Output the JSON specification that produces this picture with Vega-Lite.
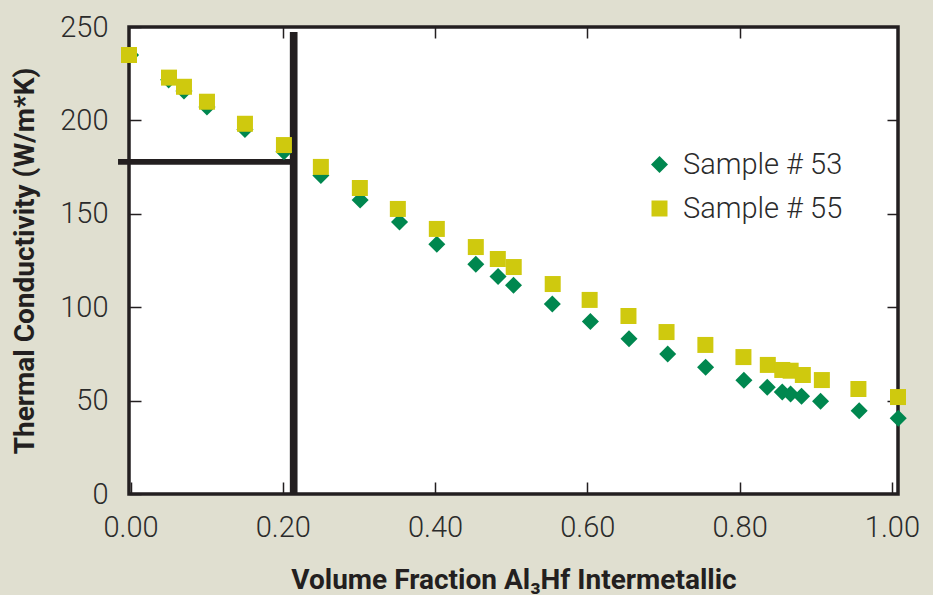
{
  "$schema": "https://vega.github.io/schema/vega-lite/v6.json",
  "width": 769,
  "height": 467,
  "autosize": {"type": "none"},
  "padding": {"left": 129, "top": 27, "right": 35, "bottom": 101},
  "background": "#e0dfd0",
  "config": {
    "view": {"stroke": "#231f20", "strokeWidth": 3.5, "fill": "#ffffff"},
    "font": "Roboto, sans-serif",
    "axis": {
      "labelFont": "Roboto, sans-serif",
      "labelFontSize": 29,
      "labelFontWeight": 300,
      "labelColor": "#2b2b2b",
      "tickColor": "#231f20",
      "tickWidth": 1.5,
      "tickSize": -12,
      "domain": false,
      "grid": false,
      "titleFont": "Roboto, sans-serif",
      "titleFontSize": 28,
      "titleFontWeight": "bold",
      "titleColor": "#231f20"
    },
    "legend": {
      "orient": "none",
      "legendX": 516,
      "legendY": 123,
      "labelFont": "Roboto, sans-serif",
      "labelFontSize": 29,
      "labelFontWeight": 300,
      "labelColor": "#2b2b2b",
      "labelOffset": 9,
      "labelLimit": 400,
      "rowPadding": 14,
      "symbolStrokeWidth": 0,
      "symbolOpacity": 1,
      "padding": 0
    }
  },
  "resolve": {
    "scale": {"x": "shared", "y": "shared"},
    "axis": {"x": "independent", "y": "independent"}
  },
  "layer": [
    {
      "data": {"values": [{"x": -0.0164, "x2": 0.2143, "y": 177.8}]},
      "mark": {"type": "rule", "strokeWidth": 5.7, "color": "#231f20", "clip": false},
      "encoding": {
        "x": {
          "field": "x", "type": "quantitative",
          "scale": {"domain": [-0.002, 1.008], "nice": false, "zero": false},
          "axis": {"orient": "top", "values": [0.2, 0.4, 0.6, 0.8], "labels": false, "title": null, "tickSize": -11}
        },
        "x2": {"field": "x2"},
        "y": {
          "field": "y", "type": "quantitative",
          "scale": {"domain": [0, 250], "nice": false},
          "axis": {"orient": "right", "values": [50, 100, 150, 200], "labels": false, "title": null, "tickSize": -11}
        }
      }
    },
    {
      "data": {"values": [{"x": 0.2143, "y": 0, "y2": 247.3}]},
      "mark": {"type": "rule", "strokeWidth": 7.7, "color": "#231f20", "clip": false},
      "encoding": {
        "x": {"field": "x", "type": "quantitative", "axis": null},
        "y": {"field": "y", "type": "quantitative", "axis": null},
        "y2": {"field": "y2"}
      }
    },
    {
      "data": {
        "values": [
          {"sample": "Sample # 53", "vf": 0.0, "k": 235.0},
          {"sample": "Sample # 53", "vf": 0.0501, "k": 221.7},
          {"sample": "Sample # 53", "vf": 0.0702, "k": 215.8},
          {"sample": "Sample # 53", "vf": 0.1004, "k": 207.2},
          {"sample": "Sample # 53", "vf": 0.1503, "k": 195.1},
          {"sample": "Sample # 53", "vf": 0.2015, "k": 183.2},
          {"sample": "Sample # 53", "vf": 0.25, "k": 170.5},
          {"sample": "Sample # 53", "vf": 0.3016, "k": 157.4},
          {"sample": "Sample # 53", "vf": 0.3533, "k": 145.6},
          {"sample": "Sample # 53", "vf": 0.4023, "k": 133.7},
          {"sample": "Sample # 53", "vf": 0.4535, "k": 123.0},
          {"sample": "Sample # 53", "vf": 0.4827, "k": 116.4},
          {"sample": "Sample # 53", "vf": 0.503, "k": 111.7},
          {"sample": "Sample # 53", "vf": 0.554, "k": 101.7},
          {"sample": "Sample # 53", "vf": 0.604, "k": 92.4},
          {"sample": "Sample # 53", "vf": 0.6547, "k": 83.1},
          {"sample": "Sample # 53", "vf": 0.7055, "k": 74.9},
          {"sample": "Sample # 53", "vf": 0.7553, "k": 67.8},
          {"sample": "Sample # 53", "vf": 0.8056, "k": 60.9},
          {"sample": "Sample # 53", "vf": 0.8363, "k": 57.1},
          {"sample": "Sample # 53", "vf": 0.856, "k": 54.6},
          {"sample": "Sample # 53", "vf": 0.8669, "k": 53.5},
          {"sample": "Sample # 53", "vf": 0.8813, "k": 52.3},
          {"sample": "Sample # 53", "vf": 0.9063, "k": 49.6},
          {"sample": "Sample # 53", "vf": 0.957, "k": 44.6},
          {"sample": "Sample # 53", "vf": 1.0083, "k": 40.5},
          {"sample": "Sample # 55", "vf": -0.002, "k": 235.0},
          {"sample": "Sample # 55", "vf": 0.0505, "k": 222.9},
          {"sample": "Sample # 55", "vf": 0.0702, "k": 218.0},
          {"sample": "Sample # 55", "vf": 0.1004, "k": 210.0},
          {"sample": "Sample # 55", "vf": 0.1503, "k": 198.2},
          {"sample": "Sample # 55", "vf": 0.2015, "k": 186.8},
          {"sample": "Sample # 55", "vf": 0.25, "k": 175.1},
          {"sample": "Sample # 55", "vf": 0.3012, "k": 163.8},
          {"sample": "Sample # 55", "vf": 0.3511, "k": 152.6},
          {"sample": "Sample # 55", "vf": 0.4023, "k": 141.9},
          {"sample": "Sample # 55", "vf": 0.4535, "k": 132.2},
          {"sample": "Sample # 55", "vf": 0.4824, "k": 125.8},
          {"sample": "Sample # 55", "vf": 0.5033, "k": 121.5},
          {"sample": "Sample # 55", "vf": 0.5545, "k": 112.4},
          {"sample": "Sample # 55", "vf": 0.603, "k": 103.9},
          {"sample": "Sample # 55", "vf": 0.654, "k": 95.3},
          {"sample": "Sample # 55", "vf": 0.704, "k": 86.7},
          {"sample": "Sample # 55", "vf": 0.755, "k": 79.8},
          {"sample": "Sample # 55", "vf": 0.805, "k": 73.3},
          {"sample": "Sample # 55", "vf": 0.837, "k": 69.1},
          {"sample": "Sample # 55", "vf": 0.856, "k": 66.4},
          {"sample": "Sample # 55", "vf": 0.867, "k": 66.0},
          {"sample": "Sample # 55", "vf": 0.883, "k": 63.7},
          {"sample": "Sample # 55", "vf": 0.908, "k": 61.0},
          {"sample": "Sample # 55", "vf": 0.956, "k": 56.2},
          {"sample": "Sample # 55", "vf": 1.008, "k": 51.9}
        ]
      },
      "mark": {"type": "point", "filled": true, "opacity": 1, "strokeWidth": 0, "clip": false},
      "encoding": {
        "x": {
          "field": "vf", "type": "quantitative",
          "axis": {
            "orient": "bottom",
            "values": [0, 0.2, 0.4, 0.6, 0.8, 1.0],
            "format": ".2f",
            "labelPadding": 31,
            "title": "Volume Fraction Al₃Hf Intermetallic",
            "titlePadding": 24
          }
        },
        "y": {
          "field": "k", "type": "quantitative",
          "axis": {
            "orient": "left",
            "values": [0, 50, 100, 150, 200, 250],
            "labelPadding": 33,
            "title": "Thermal Conductivity (W/m*K)",
            "titlePadding": 20
          }
        },
        "color": {
          "field": "sample", "type": "nominal",
          "scale": {"domain": ["Sample # 53", "Sample # 55"], "range": ["#00874f", "#cfc90e"]},
          "legend": {"title": null}
        },
        "shape": {
          "field": "sample", "type": "nominal",
          "scale": {"domain": ["Sample # 53", "Sample # 55"], "range": ["diamond", "square"]},
          "legend": {"title": null}
        },
        "size": {
          "field": "sample", "type": "nominal",
          "scale": {"domain": ["Sample # 53", "Sample # 55"], "range": [290, 256]},
          "legend": {"title": null}
        }
      }
    }
  ]
}
